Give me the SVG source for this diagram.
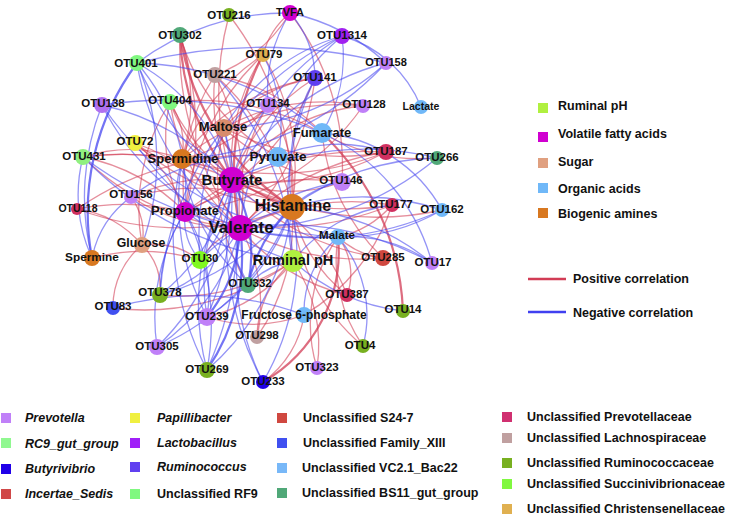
<svg xmlns="http://www.w3.org/2000/svg" width="731" height="516" viewBox="0 0 731 516">
<style>
text{font-family:"Liberation Sans",Arial,sans-serif;font-weight:bold;fill:#111}
.l{text-anchor:middle;dominant-baseline:central;font-size:11.5px}
.m{text-anchor:middle;dominant-baseline:central;font-size:13px}
.b{text-anchor:middle;dominant-baseline:central;font-size:16px}
#edges path{fill:none;stroke-width:1.3;stroke-opacity:.58}
#edges .p{stroke:#d23c55}
#edges .n{stroke:#4646f0}
#edges .t{stroke-width:2.2;stroke-opacity:.75}
.lg{font-size:12.5px;dominant-baseline:central}
.it{font-style:italic}
</style>
<rect width="731" height="516" fill="#fff"/>
<g id="edges">
<path class="p" d="M229 15A300 300 0 0 0 232 180"/>
<path class="p" d="M229 15A300 300 0 0 1 292 207"/>
<path class="p t" d="M180 35A250 250 0 0 0 232 180"/>
<path class="p" d="M180 35A300 300 0 0 0 240 228"/>
<path class="p t" d="M180 35A250 250 0 0 0 292 207"/>
<path class="p" d="M180 35A300 300 0 0 1 185 212"/>
<path class="p" d="M180 35A200 200 0 0 1 182 159"/>
<path class="p" d="M180 35A200 200 0 0 0 278 157"/>
<path class="p" d="M290 13A80 80 0 0 0 263 55"/>
<path class="p" d="M290 13A150 150 0 0 1 215 75"/>
<path class="p" d="M290 13A250 250 0 0 1 342 182"/>
<path class="p t" d="M263 55A250 250 0 0 0 240 228"/>
<path class="p" d="M263 55A200 200 0 0 0 232 180"/>
<path class="p" d="M263 55A250 250 0 0 0 185 212"/>
<path class="p" d="M263 55A220 220 0 0 1 292 207"/>
<path class="p" d="M263 55A200 200 0 0 0 182 159"/>
<path class="p" d="M215 75A250 250 0 0 1 240 228"/>
<path class="p" d="M215 75A200 200 0 0 0 232 180"/>
<path class="p" d="M215 75A200 200 0 0 0 185 212"/>
<path class="p" d="M215 75A250 250 0 0 1 292 207"/>
<path class="p" d="M215 75A200 200 0 0 1 322 133"/>
<path class="p" d="M315 78A150 150 0 0 0 224 128"/>
<path class="p" d="M315 78A200 200 0 0 0 182 159"/>
<path class="p" d="M315 78A200 200 0 0 0 232 180"/>
<path class="p" d="M315 78A250 250 0 0 1 185 212"/>
<path class="p" d="M315 78A250 250 0 0 1 240 228"/>
<path class="p" d="M170 102A80 80 0 0 1 182 159"/>
<path class="p" d="M170 102A150 150 0 0 0 232 180"/>
<path class="p" d="M170 102A200 200 0 0 0 240 228"/>
<path class="p" d="M170 102A150 150 0 0 0 185 212"/>
<path class="p" d="M170 102A200 200 0 0 0 292 207"/>
<path class="p" d="M170 102A200 200 0 0 0 142 245"/>
<path class="p" d="M170 102A250 250 0 0 1 322 133"/>
<path class="p" d="M268 105A60 60 0 0 1 224 128"/>
<path class="p" d="M268 105A150 150 0 0 1 182 159"/>
<path class="p" d="M268 105A200 200 0 0 0 240 228"/>
<path class="p" d="M268 105A150 150 0 0 1 292 207"/>
<path class="p" d="M363 106A200 200 0 0 0 224 128"/>
<path class="p" d="M363 106A250 250 0 0 0 182 159"/>
<path class="p" d="M363 106A180 180 0 0 0 232 180"/>
<path class="p" d="M363 106A250 250 0 0 1 185 212"/>
<path class="p" d="M135 143A200 200 0 0 0 232 180"/>
<path class="p" d="M135 143A150 150 0 0 1 185 212"/>
<path class="p" d="M135 143A250 250 0 0 0 292 207"/>
<path class="p" d="M135 143A200 200 0 0 1 240 228"/>
<path class="p" d="M83 157A250 250 0 0 1 232 180"/>
<path class="p" d="M83 157A200 200 0 0 1 185 212"/>
<path class="p" d="M83 157A250 250 0 0 0 240 228"/>
<path class="p" d="M83 157A150 150 0 0 1 182 159"/>
<path class="p" d="M83 157A300 300 0 0 1 292 207"/>
<path class="p" d="M131 197A200 200 0 0 1 232 180"/>
<path class="p" d="M131 197A250 250 0 0 1 292 207"/>
<path class="p" d="M131 197A200 200 0 0 0 240 228"/>
<path class="p" d="M131 197A60 60 0 0 1 142 245"/>
<path class="p" d="M77 209A100 100 0 0 1 142 245"/>
<path class="p" d="M386 152A250 250 0 0 1 232 180"/>
<path class="p" d="M386 152A300 300 0 0 1 182 159"/>
<path class="p" d="M386 152A250 250 0 0 1 224 128"/>
<path class="p" d="M386 152A250 250 0 0 0 240 228"/>
<path class="p" d="M386 152A300 300 0 0 0 185 212"/>
<path class="p" d="M437 158A200 200 0 0 1 322 133"/>
<path class="p" d="M342 182A150 150 0 0 1 232 180"/>
<path class="p" d="M342 182A250 250 0 0 0 185 212"/>
<path class="p" d="M342 182A200 200 0 0 1 224 128"/>
<path class="p" d="M77 209A250 250 0 0 1 185 212"/>
<path class="p" d="M77 209A300 300 0 0 1 278 157"/>
<path class="p" d="M77 209A300 300 0 0 0 292 207"/>
<path class="p" d="M392 205A100 100 0 0 1 338 237"/>
<path class="p" d="M392 205A250 250 0 0 1 232 180"/>
<path class="p" d="M392 205A250 250 0 0 0 240 228"/>
<path class="p" d="M392 205A300 300 0 0 1 185 212"/>
<path class="p" d="M392 205A200 200 0 0 1 304 315"/>
<path class="p" d="M442 210A300 300 0 0 1 232 180"/>
<path class="p" d="M200 260A80 80 0 0 0 142 245"/>
<path class="p" d="M200 260A80 80 0 0 1 240 228"/>
<path class="p" d="M200 260A200 200 0 0 0 92 258"/>
<path class="p" d="M383 258A80 80 0 0 1 338 237"/>
<path class="p" d="M383 258A200 200 0 0 1 322 133"/>
<path class="p" d="M383 258A250 250 0 0 1 240 228"/>
<path class="p" d="M383 258A250 250 0 0 1 232 180"/>
<path class="p t" d="M403 311A260 260 0 0 0 322 133"/>
<path class="p" d="M248 285A200 200 0 0 1 224 128"/>
<path class="p" d="M160 295A60 60 0 0 0 142 245"/>
<path class="p" d="M160 295A200 200 0 0 0 293 261"/>
<path class="p" d="M347 295A60 60 0 0 0 338 237"/>
<path class="p" d="M347 295A150 150 0 0 1 292 207"/>
<path class="p" d="M347 295A200 200 0 0 0 232 180"/>
<path class="p" d="M347 295A200 200 0 0 1 240 228"/>
<path class="p" d="M113 308A250 250 0 0 0 293 261"/>
<path class="p" d="M113 308A80 80 0 0 1 142 245"/>
<path class="p" d="M207 317A150 150 0 0 0 293 261"/>
<path class="p" d="M207 317A150 150 0 0 0 304 315"/>
<path class="p" d="M257 337A100 100 0 0 1 293 261"/>
<path class="p" d="M257 337A150 150 0 0 0 240 228"/>
<path class="p" d="M257 337A200 200 0 0 0 292 207"/>
<path class="p" d="M363 346A150 150 0 0 1 338 237"/>
<path class="p" d="M363 346A200 200 0 0 1 292 207"/>
<path class="p" d="M317 368A150 150 0 0 0 293 261"/>
<path class="p" d="M317 368A150 150 0 0 1 338 237"/>
<path class="p t" d="M263 382A150 150 0 0 0 338 237"/>
<path class="p" d="M263 382A100 100 0 0 0 304 315"/>
<path class="n" d="M290 13A250 250 0 0 0 137 63"/>
<path class="n" d="M290 13A100 100 0 0 1 315 78"/>
<path class="n" d="M290 13A150 150 0 0 0 268 105"/>
<path class="n" d="M290 13A200 200 0 0 1 386 63"/>
<path class="n" d="M342 36A120 120 0 0 1 421 107"/>
<path class="n" d="M342 36A250 250 0 0 0 232 180"/>
<path class="n" d="M342 36A200 200 0 0 0 224 128"/>
<path class="n" d="M342 36A300 300 0 0 0 185 212"/>
<path class="n" d="M342 36A150 150 0 0 1 322 133"/>
<path class="n" d="M342 36A300 300 0 0 0 240 228"/>
<path class="n" d="M386 63A500 500 0 0 0 137 63"/>
<path class="n" d="M263 55A150 150 0 0 1 278 157"/>
<path class="n" d="M386 63A250 250 0 0 1 224 128"/>
<path class="n" d="M386 63A250 250 0 0 0 232 180"/>
<path class="n" d="M386 63A300 300 0 0 1 182 159"/>
<path class="n t" d="M137 63A250 250 0 0 0 92 258"/>
<path class="n" d="M137 63A200 200 0 0 1 185 212"/>
<path class="n" d="M137 63A250 250 0 0 0 240 228"/>
<path class="n" d="M137 63A200 200 0 0 1 232 180"/>
<path class="n" d="M137 63A300 300 0 0 0 338 237"/>
<path class="n" d="M137 63A300 300 0 0 1 322 133"/>
<path class="n" d="M137 63A250 250 0 0 1 142 245"/>
<path class="n" d="M215 75A300 300 0 0 1 293 261"/>
<path class="n" d="M315 78A300 300 0 0 0 293 261"/>
<path class="n" d="M315 78A200 200 0 0 0 292 207"/>
<path class="n" d="M102 105A250 250 0 0 0 92 258"/>
<path class="n" d="M102 105A250 250 0 0 1 232 180"/>
<path class="n" d="M102 105A250 250 0 0 0 240 228"/>
<path class="n" d="M102 105A400 400 0 0 1 322 133"/>
<path class="n" d="M102 105A300 300 0 0 0 338 237"/>
<path class="n" d="M83 157A150 150 0 0 0 92 258"/>
<path class="n" d="M135 143A300 300 0 0 0 293 261"/>
<path class="n" d="M83 157A400 400 0 0 0 338 237"/>
<path class="n" d="M83 157A350 350 0 0 0 293 261"/>
<path class="n" d="M131 197A100 100 0 0 0 92 258"/>
<path class="n" d="M131 197A200 200 0 0 1 278 157"/>
<path class="n" d="M386 152A150 150 0 0 0 278 157"/>
<path class="n" d="M437 158A300 300 0 0 1 240 228"/>
<path class="n" d="M437 158A250 250 0 0 0 292 207"/>
<path class="n" d="M437 158A300 300 0 0 0 232 180"/>
<path class="n" d="M342 182A100 100 0 0 0 292 207"/>
<path class="n" d="M342 182A200 200 0 0 0 240 228"/>
<path class="n" d="M392 205A150 150 0 0 0 293 261"/>
<path class="n" d="M442 210A250 250 0 0 0 292 207"/>
<path class="n" d="M442 210A300 300 0 0 1 240 228"/>
<path class="n" d="M442 210A150 150 0 0 0 322 133"/>
<path class="n" d="M442 210A200 200 0 0 1 338 237"/>
<path class="n" d="M200 260A60 60 0 0 1 185 212"/>
<path class="n" d="M200 260A120 120 0 0 0 232 180"/>
<path class="n" d="M200 260A250 250 0 0 1 224 128"/>
<path class="n" d="M200 260A200 200 0 0 1 292 207"/>
<path class="n" d="M432 263A250 250 0 0 0 292 207"/>
<path class="n" d="M432 263A150 150 0 0 0 338 237"/>
<path class="n" d="M432 263A300 300 0 0 0 240 228"/>
<path class="n" d="M432 263A200 200 0 0 0 322 133"/>
<path class="n t" d="M248 285A150 150 0 0 0 232 180"/>
<path class="n" d="M248 285A60 60 0 0 1 240 228"/>
<path class="n" d="M248 285A150 150 0 0 0 185 212"/>
<path class="n t" d="M248 285A150 150 0 0 1 292 207"/>
<path class="n" d="M248 285A80 80 0 0 1 293 261"/>
<path class="n" d="M248 285A200 200 0 0 1 182 159"/>
<path class="n" d="M160 295A150 150 0 0 1 185 212"/>
<path class="n" d="M160 295A150 150 0 0 0 240 228"/>
<path class="n" d="M160 295A200 200 0 0 0 232 180"/>
<path class="n" d="M160 295A250 250 0 0 0 292 207"/>
<path class="n" d="M160 295A300 300 0 0 1 224 128"/>
<path class="n" d="M113 308A300 300 0 0 1 304 315"/>
<path class="n" d="M403 311A200 200 0 0 1 293 261"/>
<path class="n t" d="M207 317A150 150 0 0 0 240 228"/>
<path class="n" d="M207 317A200 200 0 0 1 232 180"/>
<path class="n" d="M207 317A150 150 0 0 0 185 212"/>
<path class="n" d="M207 317A200 200 0 0 0 292 207"/>
<path class="n" d="M207 317A300 300 0 0 0 224 128"/>
<path class="n" d="M207 317A250 250 0 0 1 182 159"/>
<path class="n" d="M304 315A100 100 0 0 1 338 237"/>
<path class="n" d="M363 346A120 120 0 0 0 338 237"/>
<path class="n" d="M157 347A200 200 0 0 0 240 228"/>
<path class="n" d="M157 347A250 250 0 0 0 232 180"/>
<path class="n" d="M157 347A200 200 0 0 1 185 212"/>
<path class="n" d="M157 347A250 250 0 0 0 292 207"/>
<path class="n t" d="M207 370A200 200 0 0 0 240 228"/>
<path class="n" d="M207 370A250 250 0 0 1 232 180"/>
<path class="n" d="M207 370A250 250 0 0 0 185 212"/>
<path class="n" d="M207 370A250 250 0 0 0 292 207"/>
<path class="n" d="M207 370A300 300 0 0 1 182 159"/>
<path class="n" d="M207 370A350 350 0 0 0 224 128"/>
<path class="n" d="M263 382A250 250 0 0 1 240 228"/>
<path class="n" d="M263 382A250 250 0 0 0 292 207"/>
<path class="n" d="M263 382A300 300 0 0 1 232 180"/>
</g>
<g id="nodes">
<g id="OTU216"><circle cx="229" cy="15" r="7" fill="#78b020"/><text class="l" x="229" y="15">OTU216</text></g>
<g id="OTU302"><circle cx="180" cy="35" r="8" fill="#50a878"/><text class="l" x="180" y="35">OTU302</text></g>
<g id="TVFA"><circle cx="290" cy="13" r="8" fill="#d000d0"/><text class="l" x="290" y="12" style="font-size:11px">TVFA</text></g>
<g id="OTU1314"><circle cx="342" cy="36" r="8" fill="#a020f0"/><text class="l" x="342" y="35">OTU1314</text></g>
<g id="OTU79"><circle cx="263" cy="55" r="7" fill="#e0b050"/><text class="l" x="264" y="54">OTU79</text></g>
<g id="OTU158"><circle cx="386" cy="63" r="7" fill="#c080f8"/><text class="l" x="386" y="62" style="font-size:11px">OTU158</text></g>
<g id="OTU401"><circle cx="137" cy="63" r="8" fill="#80f880"/><text class="l" x="136" y="63">OTU401</text></g>
<g id="OTU221"><circle cx="215" cy="75" r="8" fill="#c0a0a0"/><text class="l" x="215" y="74">OTU221</text></g>
<g id="OTU141"><circle cx="315" cy="78" r="8" fill="#6040f0"/><text class="l" x="315" y="77">OTU141</text></g>
<g id="OTU138"><circle cx="102" cy="105" r="8" fill="#b070f0"/><text class="l" x="103" y="103">OTU138</text></g>
<g id="OTU404"><circle cx="170" cy="102" r="8" fill="#80f880"/><text class="l" x="170" y="100">OTU404</text></g>
<g id="OTU134"><circle cx="268" cy="105" r="8" fill="#c080f8"/><text class="l" x="268" y="103">OTU134</text></g>
<g id="OTU128"><circle cx="363" cy="106" r="7" fill="#c080f8"/><text class="l" x="364" y="104">OTU128</text></g>
<g id="Lactate"><circle cx="421" cy="107" r="7" fill="#70b8f8"/><text class="l" x="421" y="106" style="font-size:10.5px">Lactate</text></g>
<g id="Maltose"><circle cx="224" cy="128" r="9" fill="#d88c6c"/><text class="m" x="223" y="126">Maltose</text></g>
<g id="Fumarate"><circle cx="322" cy="133" r="10" fill="#70b8f8"/><text class="m" x="322" y="132">Fumarate</text></g>
<g id="OTU72"><circle cx="135" cy="143" r="8" fill="#f0f040"/><text class="l" x="135" y="141">OTU72</text></g>
<g id="OTU187"><circle cx="386" cy="152" r="8" fill="#d03060"/><text class="l" x="386" y="151">OTU187</text></g>
<g id="Pyruvate"><circle cx="278" cy="157" r="10" fill="#70b8f8"/><text class="m" x="278" y="156" style="font-size:13.5px">Pyruvate</text></g>
<g id="OTU266"><circle cx="437" cy="158" r="7" fill="#50a878"/><text class="l" x="437" y="157">OTU266</text></g>
<g id="OTU431"><circle cx="83" cy="157" r="8" fill="#90f080"/><text class="l" x="84" y="156">OTU431</text></g>
<g id="Spermidine"><circle cx="182" cy="159" r="10" fill="#d87820"/><text class="m" x="183" y="158">Spermidine</text></g>
<g id="Butyrate"><circle cx="232" cy="180" r="13" fill="#d000d0"/><text class="b" x="232" y="179" style="font-size:15px">Butyrate</text></g>
<g id="OTU146"><circle cx="342" cy="182" r="9" fill="#c080f8"/><text class="l" x="341" y="180">OTU146</text></g>
<g id="OTU156"><circle cx="131" cy="197" r="7" fill="#c080f8"/><text class="l" x="131" y="194">OTU156</text></g>
<g id="Histamine"><circle cx="292" cy="207" r="13" fill="#d87820"/><text class="b" x="293" y="205">Histamine</text></g>
<g id="OTU177"><circle cx="392" cy="205" r="7" fill="#d03060"/><text class="l" x="391" y="204">OTU177</text></g>
<g id="OTU118"><circle cx="77" cy="209" r="6" fill="#d03060"/><text class="l" x="78" y="208" style="font-size:10.5px">OTU118</text></g>
<g id="OTU162"><circle cx="442" cy="210" r="7" fill="#70b8f8"/><text class="l" x="442" y="209">OTU162</text></g>
<g id="Propionate"><circle cx="185" cy="212" r="10" fill="#d000d0"/><text class="m" x="185" y="210">Propionate</text></g>
<g id="Valerate"><circle cx="240" cy="228" r="13" fill="#d000d0"/><text class="b" x="241" y="227" style="font-size:17px">Valerate</text></g>
<g id="Malate"><circle cx="338" cy="237" r="8" fill="#70b8f8"/><text class="l" x="337" y="235" style="font-size:11.5px">Malate</text></g>
<g id="Glucose"><circle cx="142" cy="245" r="8" fill="#e0a080"/><text class="m" x="141" y="243" style="font-size:12.3px">Glucose</text></g>
<g id="Spermine"><circle cx="92" cy="258" r="8" fill="#d87820"/><text class="m" x="92" y="257" style="font-size:11.8px">Spermine</text></g>
<g id="OTU30"><circle cx="200" cy="260" r="9" fill="#80f820"/><text class="l" x="200" y="258">OTU30</text></g>
<g id="RuminalpH"><circle cx="293" cy="261" r="11" fill="#b0f040"/><text class="b" x="293" y="260" style="font-size:14.5px">Ruminal pH</text></g>
<g id="OTU285"><circle cx="383" cy="258" r="8" fill="#d04840"/><text class="l" x="383" y="257">OTU285</text></g>
<g id="OTU17"><circle cx="432" cy="263" r="7" fill="#c080f8"/><text class="l" x="433" y="262">OTU17</text></g>
<g id="OTU332"><circle cx="248" cy="285" r="8" fill="#50a878"/><text class="l" x="250" y="283">OTU332</text></g>
<g id="OTU378"><circle cx="160" cy="295" r="8" fill="#78b020"/><text class="l" x="160" y="292">OTU378</text></g>
<g id="OTU387"><circle cx="347" cy="295" r="7" fill="#d03060"/><text class="l" x="347" y="294">OTU387</text></g>
<g id="OTU83"><circle cx="113" cy="308" r="7" fill="#4050f0"/><text class="l" x="113" y="306">OTU83</text></g>
<g id="OTU14"><circle cx="403" cy="311" r="7" fill="#78b020"/><text class="l" x="403" y="309">OTU14</text></g>
<g id="OTU239"><circle cx="207" cy="317" r="9" fill="#c080f8"/><text class="l" x="207" y="316">OTU239</text></g>
<g id="Fructose6P"><circle cx="304" cy="315" r="8" fill="#70b8f8"/><text class="l" x="304" y="315" style="font-size:12px">Fructose 6-phosphate</text></g>
<g id="OTU298"><circle cx="257" cy="337" r="7" fill="#c0a0a0"/><text class="l" x="257" y="335">OTU298</text></g>
<g id="OTU305"><circle cx="157" cy="347" r="8" fill="#c080f8"/><text class="l" x="157" y="346">OTU305</text></g>
<g id="OTU4"><circle cx="363" cy="346" r="7" fill="#78b020"/><text class="l" x="360" y="345">OTU4</text></g>
<g id="OTU269"><circle cx="207" cy="370" r="8" fill="#78b020"/><text class="l" x="207" y="369">OTU269</text></g>
<g id="OTU323"><circle cx="317" cy="368" r="7" fill="#c080f8"/><text class="l" x="317" y="367">OTU323</text></g>
<g id="OTU233"><circle cx="263" cy="382" r="7" fill="#2000e8"/><text class="l" x="263" y="381">OTU233</text></g>
</g>
<g id="legend-metabolites">
<rect x="538" y="103" width="10" height="10" fill="#b0f040"/><text class="lg" x="558" y="106">Ruminal pH</text>
<rect x="538" y="132" width="10" height="10" fill="#d000d0"/><text class="lg" x="558" y="134">Volatile fatty acids</text>
<rect x="538" y="158" width="10" height="10" fill="#e0a080"/><text class="lg" x="558" y="162">Sugar</text>
<rect x="538" y="183" width="10" height="10" fill="#70b8f8"/><text class="lg" x="558" y="189">Organic acids</text>
<rect x="538" y="208" width="10" height="10" fill="#d87820"/><text class="lg" x="558" y="214">Biogenic amines</text>
</g>
<g id="legend-correlation">
<line x1="528" y1="279" x2="566" y2="279" stroke="#d23c55" stroke-width="2.5"/><text class="lg" x="573" y="279">Positive correlation</text>
<line x1="528" y1="312" x2="566" y2="312" stroke="#4040f0" stroke-width="2.5"/><text class="lg" x="573" y="313">Negative correlation</text>
</g>
<g id="legend-taxa">
<rect x="1" y="413" width="10" height="10" fill="#c080f8"/><text class="lg it" x="25" y="418">Prevotella</text>
<rect x="1" y="438" width="10" height="10" fill="#90f890"/><text class="lg it" x="25" y="444">RC9_gut_group</text>
<rect x="1" y="464" width="10" height="10" fill="#2000e8"/><text class="lg it" x="25" y="469">Butyrivibrio</text>
<rect x="1" y="489" width="10" height="10" fill="#d04848"/><text class="lg it" x="25" y="494">Incertae_Sedis</text>
<rect x="130" y="413" width="10" height="10" fill="#f0f040"/><text class="lg it" x="157" y="418">Papillibacter</text>
<rect x="130" y="438" width="10" height="10" fill="#a020f8"/><text class="lg it" x="157" y="443">Lactobacillus</text>
<rect x="130" y="462" width="10" height="10" fill="#6040f0"/><text class="lg it" x="157" y="467">Ruminococcus</text>
<rect x="130" y="489" width="10" height="10" fill="#80f880"/><text class="lg" x="157" y="494">Unclassified RF9</text>
<rect x="277" y="413" width="10" height="10" fill="#d04840"/><text class="lg" x="303" y="418">Unclassified S24-7</text>
<rect x="277" y="438" width="10" height="10" fill="#4050f0"/><text class="lg" x="303" y="443">Unclassified Family_XIII</text>
<rect x="277" y="463" width="10" height="10" fill="#78b8f8"/><text class="lg" x="302" y="468">Unclassified VC2.1_Bac22</text>
<rect x="277" y="488" width="10" height="10" fill="#50a878"/><text class="lg" x="302" y="493">Unclassified BS11_gut_group</text>
<rect x="502" y="412" width="10" height="10" fill="#d03070"/><text class="lg" x="527" y="417">Unclassified Prevotellaceae</text>
<rect x="502" y="433" width="10" height="10" fill="#c0a0a0"/><text class="lg" x="527" y="438">Unclassified Lachnospiraceae</text>
<rect x="502" y="458" width="10" height="10" fill="#78b020"/><text class="lg" x="527" y="463">Unclassified Ruminococcaceae</text>
<rect x="502" y="479" width="10" height="10" fill="#80f840"/><text class="lg" x="527" y="484">Unclassified Succinivibrionaceae</text>
<rect x="502" y="504" width="10" height="10" fill="#e0b050"/><text class="lg" x="527" y="509">Unclassified Christensenellaceae</text>
</g>
</svg>
